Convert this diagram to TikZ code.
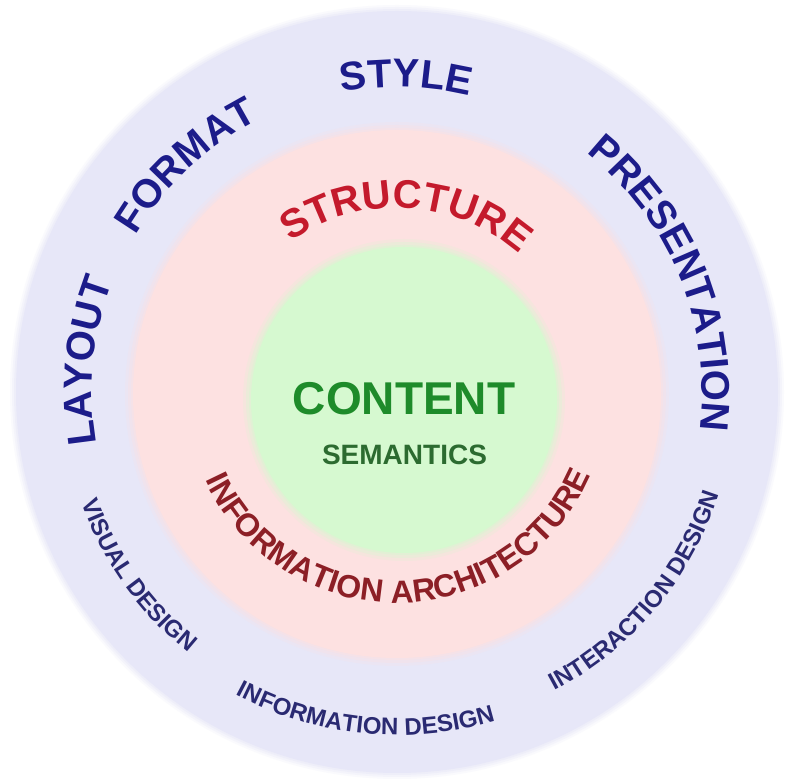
\documentclass[tikz,border=0pt]{standalone}
\usepackage{fontspec}
\setmainfont{Liberation Sans}
\usetikzlibrary{decorations.text,calc}
\definecolor{outerbg}{HTML}{E7E7F8}
\definecolor{pinkbg}{HTML}{FDE1E1}
\definecolor{greenbg}{HTML}{D6F9D0}
\definecolor{navy}{HTML}{1C1C8A}
\definecolor{smallnavy}{HTML}{2A2A72}
\definecolor{structred}{HTML}{C41A2C}
\definecolor{archred}{HTML}{8C1F26}
\definecolor{contgreen}{HTML}{1E8B2A}
\definecolor{semgreen}{HTML}{2C6B30}
% clockwise arc text (tops outward): mid angle, half span, baseline radius, format, text
\newcommand\cwlabel[5]{%
  \pgfmathsetmacro\aS{#1+#2}\pgfmathsetmacro\aE{#1-#2}%
  \path[decorate, decoration={text along path, text align=center, text={|#4|#5}}]
    ($(C)+(\aS:#3)$) arc[start angle=\aS, end angle=\aE, radius=#3];}
% counterclockwise arc text (tops inward)
\newcommand\ccwlabel[5]{%
  \pgfmathsetmacro\aS{#1-#2}\pgfmathsetmacro\aE{#1+#2}%
  \path[decorate, decoration={text along path, text align=center, text={|#4|#5}}]
    ($(C)+(\aS:#3)$) arc[start angle=\aS, end angle=\aE, radius=#3];}
\begin{document}
\begin{tikzpicture}[x=1pt,y=1pt]
\useasboundingbox (0,0) rectangle (790,779);
\fill[white] (0,0) rectangle (790,779);
\coordinate (C) at (397,387);
\coordinate (Oc) at (397,387);
\coordinate (Pc) at (397,385);
\coordinate (Gc) at (404,379);
% outer lavender disc with soft edge
\foreach \d/\o in {6/0.2,4/0.3,2/0.4}{\fill[outerbg,opacity=\o] (Oc) circle[radius=381pt+\d pt];}
\fill[outerbg] (Oc) circle[radius=381pt];
% pink disc
\foreach \d/\o in {8/0.2,5/0.3,2/0.4}{\fill[pinkbg,opacity=\o] (Pc) circle[radius=264pt+\d pt];}
\fill[pinkbg] (Pc) circle[radius=264pt];
% green disc
\foreach \d/\o in {8/0.2,5/0.3,2/0.4}{\fill[greenbg,opacity=\o] (Gc) circle[radius=153pt+\d pt];}
\fill[greenbg] (Gc) circle[radius=153pt];
% outer labels
\def\bigfmt{\fontsize{40}{40}\selectfont\bfseries\color{navy}}
\cwlabel{174.3}{45}{305pt}{\bigfmt}{LAYOUT}
\cwlabel{133}{45}{305pt}{\bigfmt}{FORMAT}
\cwlabel{88.3}{45}{305pt}{\bigfmt}{STYLE}
\cwlabel{22.2}{50}{305pt}{\bigfmt}{PRESENTATION}
% small outer labels
\def\smallfmt{\fontsize{24}{24}\selectfont\bfseries\color{smallnavy}}
\ccwlabel{215.3}{40}{334pt}{\smallfmt}{VISUAL DESIGN}
\ccwlabel{264.3}{40}{343pt}{\smallfmt}{INFORMATION DESIGN}
\ccwlabel{320.1}{40}{338pt}{\smallfmt}{INTERACTION DESIGN}
% pink ring labels
\cwlabel{86.9}{60}{184pt}{\fontsize{40}{40}\selectfont\bfseries\color{structred}}{STRUCTURE}
\ccwlabel{270.75}{80}{211pt}{\fontsize{32}{32}\selectfont\bfseries\color{archred}}{INFORMATION ARCHITECTURE}
% centre
\node[font=\fontsize{46}{46}\selectfont\bfseries, text=contgreen, anchor=base, inner sep=0pt] (content) at (404,364) {CONTENT};
\node[font=\fontsize{28}{28}\selectfont\bfseries, text=semgreen, anchor=base, inner sep=0pt] (semantics) at (404.5,314) {SEMANTICS};
\end{tikzpicture}
\end{document}
